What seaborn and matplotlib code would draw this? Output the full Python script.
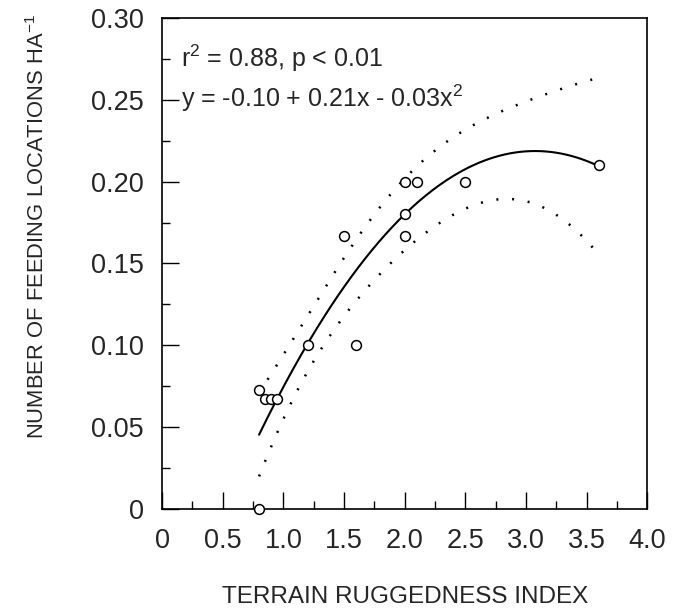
import numpy as np
import pandas as pd
import matplotlib
matplotlib.use("Agg")
import matplotlib.pyplot as plt
import seaborn as sns
from matplotlib.ticker import MultipleLocator, FuncFormatter

# Data
ruggedness = [0.80, 0.80, 0.85, 0.90, 0.95, 1.20, 1.60, 1.50, 2.00, 2.00, 2.00, 2.10, 2.50, 3.60]
feeding = [0.000, 0.073, 0.067, 0.067, 0.067, 0.100, 0.100, 0.167, 0.167, 0.180, 0.200, 0.200, 0.200, 0.210]

x_ticks = [0, 0.5, 1.0, 1.5, 2.0, 2.5, 3.0, 3.5, 4.0]
y_ticks = [0, 0.05, 0.10, 0.15, 0.20, 0.25, 0.30]
stat_text = "r$^2$ = 0.88, p < 0.01"
eq_text = "y = -0.10 + 0.21x - 0.03x$^2$"

df = pd.DataFrame({"x": ruggedness, "y": feeding})

sns.set_style("ticks")
plt.rcParams["font.family"] = ["Liberation Sans", "DejaVu Sans"]
plt.rcParams["mathtext.default"] = "regular"

fig = plt.figure(figsize=(6.81, 6.15), dpi=100)
ax = fig.add_axes([0.2379, 0.1724, 0.7126, 0.7983])

# quadratic fit + 95% CI of the mean
x = np.asarray(ruggedness)
y = np.asarray(feeding)
X = np.column_stack([np.ones_like(x), x, x ** 2])
beta, *_ = np.linalg.lstsq(X, y, rcond=None)
resid = y - X @ beta
n, p = X.shape
s2 = resid @ resid / (n - p)
cov = s2 * np.linalg.inv(X.T @ X)
xs = np.linspace(x.min(), x.max(), 200)
Xs = np.column_stack([np.ones_like(xs), xs, xs ** 2])
fit = Xs @ beta
se = np.sqrt(np.einsum("ij,jk,ik->i", Xs, cov, Xs))
tval = 2.201  # t(0.975, 11)
fit_df = pd.DataFrame({"x": xs, "fit": fit, "lo": fit - tval * se, "hi": fit + tval * se})

sns.lineplot(data=fit_df, x="x", y="fit", ax=ax, color="black", lw=1.5)
sns.lineplot(data=fit_df, x="x", y="hi", ax=ax, color="black", lw=1.8, linestyle=(0, (0.8, 5.5)))
sns.lineplot(data=fit_df, x="x", y="lo", ax=ax, color="black", lw=1.8, linestyle=(0, (0.8, 5.5)))
sns.scatterplot(data=df, x="x", y="y", ax=ax, s=50, facecolor="white", edgecolor="black",
                linewidth=1.1, zorder=5, clip_on=False)

ax.set_xlim(0, 4.0)
ax.set_ylim(0, 0.30)
ax.set_xticks(x_ticks)
ax.set_yticks(y_ticks)
ax.xaxis.set_minor_locator(MultipleLocator(0.25))
ax.yaxis.set_minor_locator(MultipleLocator(0.025))

def fmt(v, pos, nd):
    return "0" if abs(v) < 1e-9 else f"{v:.{nd}f}"

ax.xaxis.set_major_formatter(FuncFormatter(lambda v, p: fmt(v, p, 1)))
ax.yaxis.set_major_formatter(FuncFormatter(lambda v, p: fmt(v, p, 2)))
ax.tick_params(which="major", direction="in", length=12, width=1, labelsize=19.5, color="black")
ax.tick_params(which="minor", direction="in", length=6, width=1, color="black")
ax.tick_params(axis="x", which="major", pad=14)
ax.tick_params(axis="y", which="major", pad=13)
for sp in ax.spines.values():
    sp.set_linewidth(1.2)
    sp.set_color("black")

ax.set_xlabel("TERRAIN RUGGEDNESS INDEX", fontsize=17.5)
ax.xaxis.set_label_coords(0.5, -0.157)
ax.xaxis.label.set_va("top")
ax.set_ylabel("NUMBER OF FEEDING LOCATIONS HA$^{-1}$", fontsize=15.8)
ax.yaxis.set_label_coords(-0.233, 0.576)

ax.text(0.04, 0.901, stat_text, transform=ax.transAxes, fontsize=18, ha="left", va="baseline")
ax.text(0.04, 0.819, eq_text, transform=ax.transAxes, fontsize=18, ha="left", va="baseline")

fig.savefig("out.png", dpi=100, facecolor="white")
